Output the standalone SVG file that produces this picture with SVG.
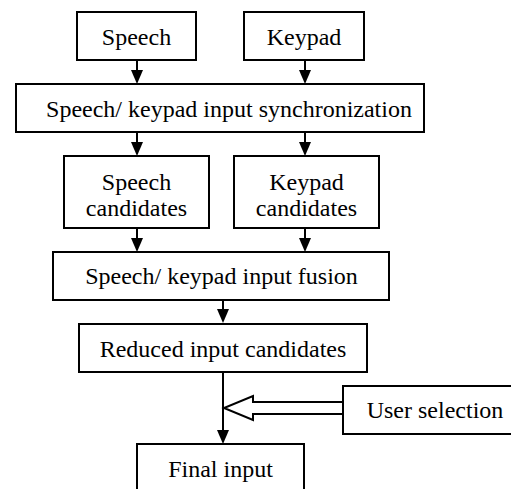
<svg xmlns="http://www.w3.org/2000/svg" width="511" height="489" viewBox="0 0 511 489">
<style>
.box{fill:#fff;stroke:#000;stroke-width:2}
.t{font-family:"Liberation Serif","Times New Roman",serif;font-size:24px;fill:#000;text-anchor:middle}
.c{stroke:#000;stroke-width:2;fill:none}
.h{fill:#000}
</style>
<rect width="511" height="489" fill="#fff"/>
<g id="connectors">
<line class="c" x1="137" y1="60" x2="137" y2="72"/>
<path class="h" d="M131,70 L143,70 L137,84 Z"/>
<line class="c" x1="305" y1="60" x2="305" y2="72"/>
<path class="h" d="M299,70 L311,70 L305,84 Z"/>
<line class="c" x1="137" y1="132" x2="137" y2="144"/>
<path class="h" d="M131,142 L143,142 L137,156 Z"/>
<line class="c" x1="305" y1="132" x2="305" y2="144"/>
<path class="h" d="M299,142 L311,142 L305,156 Z"/>
<line class="c" x1="137" y1="228" x2="137" y2="240"/>
<path class="h" d="M131,238 L143,238 L137,252 Z"/>
<line class="c" x1="305" y1="228" x2="305" y2="240"/>
<path class="h" d="M299,238 L311,238 L305,252 Z"/>
<line class="c" x1="223" y1="300" x2="223" y2="311"/>
<path class="h" d="M217,309 L229,309 L223,323 Z"/>
<line class="c" x1="223" y1="372" x2="223" y2="432"/>
<path class="h" d="M217,430 L229,430 L223,444 Z"/>
<path class="c" d="M343,402 L253,402 L253,396 L224,408 L253,420 L253,414 L343,414" fill="#fff"/>
</g>
<g id="speech"><rect class="box" x="77" y="12" width="119" height="48"/><text class="t" x="136.5" y="45">Speech</text></g>
<g id="keypad"><rect class="box" x="244" y="12" width="120" height="48"/><text class="t" x="304" y="45">Keypad</text></g>
<g id="sync"><rect class="box" x="16" y="84" width="408" height="48"/><text class="t" x="229" y="117">Speech/ keypad input synchronization</text></g>
<g id="speech-cand"><rect class="box" x="64" y="156" width="145" height="72"/><text class="t" x="136.5" y="190">Speech</text><text class="t" x="136.5" y="216">candidates</text></g>
<g id="keypad-cand"><rect class="box" x="234" y="156" width="145" height="72"/><text class="t" x="306.5" y="190">Keypad</text><text class="t" x="306.5" y="216">candidates</text></g>
<g id="fusion"><rect class="box" x="53" y="252" width="336" height="48"/><text class="t" x="221.5" y="284">Speech/ keypad input fusion</text></g>
<g id="reduced"><rect class="box" x="79" y="324" width="288" height="48"/><text class="t" x="223" y="357">Reduced input candidates</text></g>
<g id="user"><rect class="box" x="343" y="386" width="170" height="48"/><text class="t" x="435" y="418">User selection</text></g>
<g id="final"><rect class="box" x="137" y="444" width="167" height="50"/><text class="t" x="220.5" y="477">Final input</text></g>
</svg>
